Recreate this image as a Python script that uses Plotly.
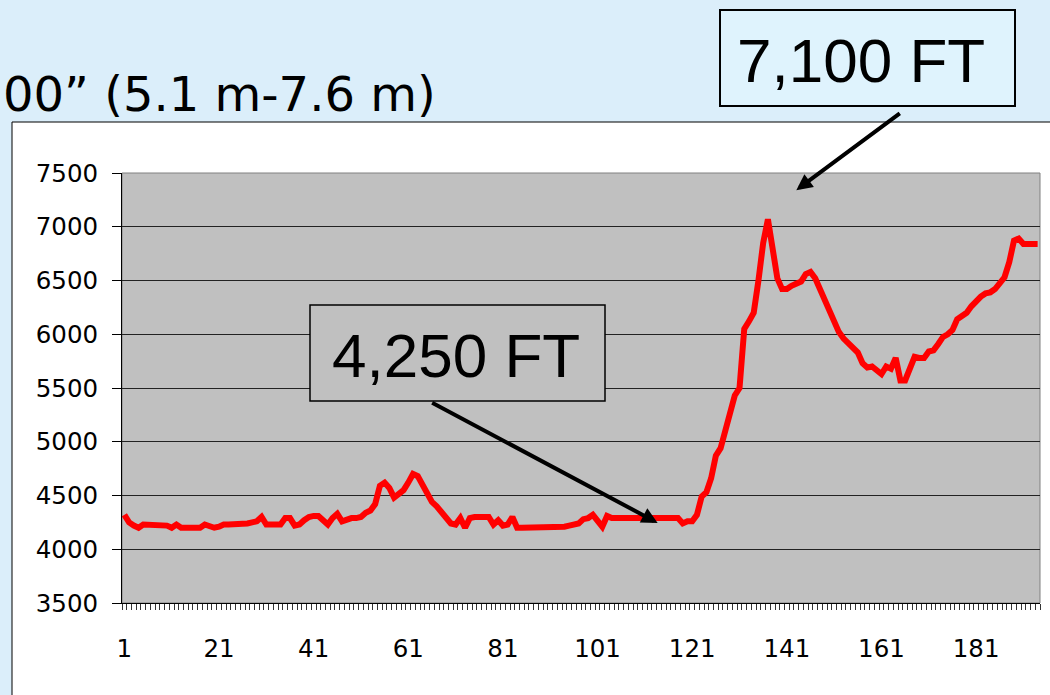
import plotly.graph_objects as go

# ---- data ----
points = list(range(1, 195))
elevation_ft = [
    4320, 4250, 4220, 4200, 4230, 4230, 4230, 4230, 4230, 4220,   # 1-10
    4200, 4230, 4200, 4200, 4200, 4200, 4200, 4230, 4220, 4200,   # 11-20
    4210, 4230, 4230, 4230, 4230, 4230, 4240, 4250, 4260, 4300,   # 21-30
    4230, 4230, 4230, 4230, 4290, 4290, 4220, 4230, 4270, 4300,   # 31-40
    4310, 4310, 4270, 4230, 4290, 4330, 4260, 4280, 4290, 4290,   # 41-50
    4300, 4340, 4360, 4420, 4590, 4620, 4570, 4480, 4520, 4550,   # 51-60
    4620, 4700, 4680, 4600, 4510, 4440, 4400, 4350, 4290, 4240,   # 61-70
    4230, 4290, 4200, 4290, 4300, 4300, 4300, 4300, 4230, 4270,   # 71-80
    4220, 4230, 4300, 4200, 4200, 4200, 4200, 4200, 4200, 4200,   # 81-90
    4200, 4200, 4200, 4210, 4220, 4230, 4240, 4280, 4290, 4320,   # 91-100
    4270, 4210, 4310, 4290, 4290, 4290, 4290, 4290, 4290, 4290,   # 101-110
    4290, 4290, 4290, 4290, 4290, 4290, 4290, 4290, 4240, 4260,   # 111-120
    4260, 4320, 4490, 4530, 4660, 4870, 4940, 5110, 5300, 5430,   # 121-130
    5500, 6050, 6120, 6200, 6500, 6850, 7070, 6780, 6520, 6420,   # 131-140
    6420, 6450, 6470, 6490, 6560, 6580, 6520, 6420, 6330, 6210,   # 141-150
    6110, 6020, 5960, 5910, 5860, 5830, 5730, 5690, 5700, 5660,   # 151-160
    5630, 5700, 5680, 5780, 5570, 5570, 5690, 5790, 5780, 5780,   # 161-170
    5840, 5850, 5910, 5975, 6000, 6040, 6140, 6170, 6200, 6260,   # 171-180
    6310, 6350, 6380, 6390, 6420, 6470, 6530, 6670, 6870, 6890,   # 181-190
    6840, 6840, 6840, 6840,                                       # 191-194
]
x_tick_labels = [1, 21, 41, 61, 81, 101, 121, 141, 161, 181]
y_ticks = [3500, 4000, 4500, 5000, 5500, 6000, 6500, 7000, 7500]
title_text = "00\u201d (5.1 m-7.6 m)"
label_high = "7,100 FT"
label_low = "4,250 FT"

# ---- layout geometry (pixels) ----
W, H = 1050, 695
L, R, T, B = 122, 1040, 173, 603
PW, PH = R - L, B - T


def px(xp):
    return (xp - L) / PW


def py(yp):
    return (B - yp) / PH


fig = go.Figure()
fig.add_trace(go.Scatter(
    x=points, y=elevation_ft, mode="lines",
    line=dict(color="#ff0000", width=6),
    hoverinfo="skip", showlegend=False,
))

AX_FONT = dict(family="DejaVu Sans, Verdana, sans-serif", size=24.5, color="black")

fig.update_layout(
    width=W, height=H,
    margin=dict(l=L, r=W - R, t=T, b=H - B, pad=0),
    paper_bgcolor="#dbeefa",
    plot_bgcolor="#c0c0c0",
    showlegend=False,
    xaxis=dict(
        range=[0.5, len(points) + 0.5],
        tickmode="array", tickvals=x_tick_labels,
        ticktext=[str(v) for v in x_tick_labels],
        ticks="", showgrid=False, zeroline=False,
        showline=True, linecolor="black", linewidth=1,
        tickfont=AX_FONT, ticklabelstandoff=24,
        minor=dict(ticks="outside", ticklen=6, tickcolor="#333333",
                   tickwidth=1, tickmode="linear", tick0=0.5, dtick=1,
                   showgrid=False),
    ),
    yaxis=dict(
        range=[y_ticks[0], y_ticks[-1]],
        tickmode="array", tickvals=y_ticks,
        ticks="outside", ticklen=9, tickcolor="black", tickwidth=1,
        showgrid=True, gridcolor="#222222", gridwidth=1,
        zeroline=False, showline=True, linecolor="black", linewidth=1,
        tickfont=AX_FONT, ticklabelstandoff=9,
    ),
)

shapes = [
    # white chart box
    dict(type="rect", xref="paper", yref="paper",
         x0=px(12), x1=px(1060), y0=py(705), y1=py(122),
         fillcolor="white", line=dict(color="black", width=1), layer="below"),
    # gray plot area
    dict(type="rect", xref="paper", yref="paper",
         x0=0, x1=1, y0=0, y1=1,
         fillcolor="#c0c0c0", line=dict(color="#808080", width=1), layer="below"),
    # label boxes
    dict(type="rect", xref="paper", yref="paper",
         x0=px(720), x1=px(1015), y0=py(106), y1=py(10),
         fillcolor="#dff3fd", line=dict(color="black", width=2), layer="above"),
    dict(type="rect", xref="paper", yref="paper",
         x0=px(310), x1=px(605), y0=py(401), y1=py(305),
         fillcolor="#c0c0c0", line=dict(color="black", width=1.5), layer="above"),
]
fig.update_layout(shapes=shapes)

BOX_FONT = dict(family="Arial, Liberation Sans, sans-serif", size=62, color="black")
annotations = [
    dict(text=title_text, xref="paper", yref="paper", x=px(438), y=py(94),
         xanchor="right", yanchor="middle", showarrow=False,
         font=dict(family="DejaVu Sans, Verdana, sans-serif", size=48, color="black")),
    dict(text=label_high, xref="paper", yref="paper", x=px(861), y=py(60),
         xanchor="center", yanchor="middle", showarrow=False, font=BOX_FONT),
    dict(text=label_low, xref="paper", yref="paper", x=px(456), y=py(355),
         xanchor="center", yanchor="middle", showarrow=False, font=BOX_FONT),
    # arrows
    dict(text="", x=113.7, y=4245, xref="x", yref="y",
         ax=-227, ay=-121, showarrow=True, arrowhead=2, arrowsize=0.8,
         arrowwidth=4, arrowcolor="black", standoff=0, startstandoff=0),
    dict(text="", x=143, y=7340, xref="x", yref="y",
         ax=105, ay=-78, showarrow=True, arrowhead=2, arrowsize=0.8,
         arrowwidth=4, arrowcolor="black", standoff=0, startstandoff=0),
]
fig.update_layout(annotations=annotations)

fig.write_html(
    "out.html",
    config={"displayModeBar": False},
    post_script="document.body.style.margin='0';document.body.style.background='#dbeefa';",
)
